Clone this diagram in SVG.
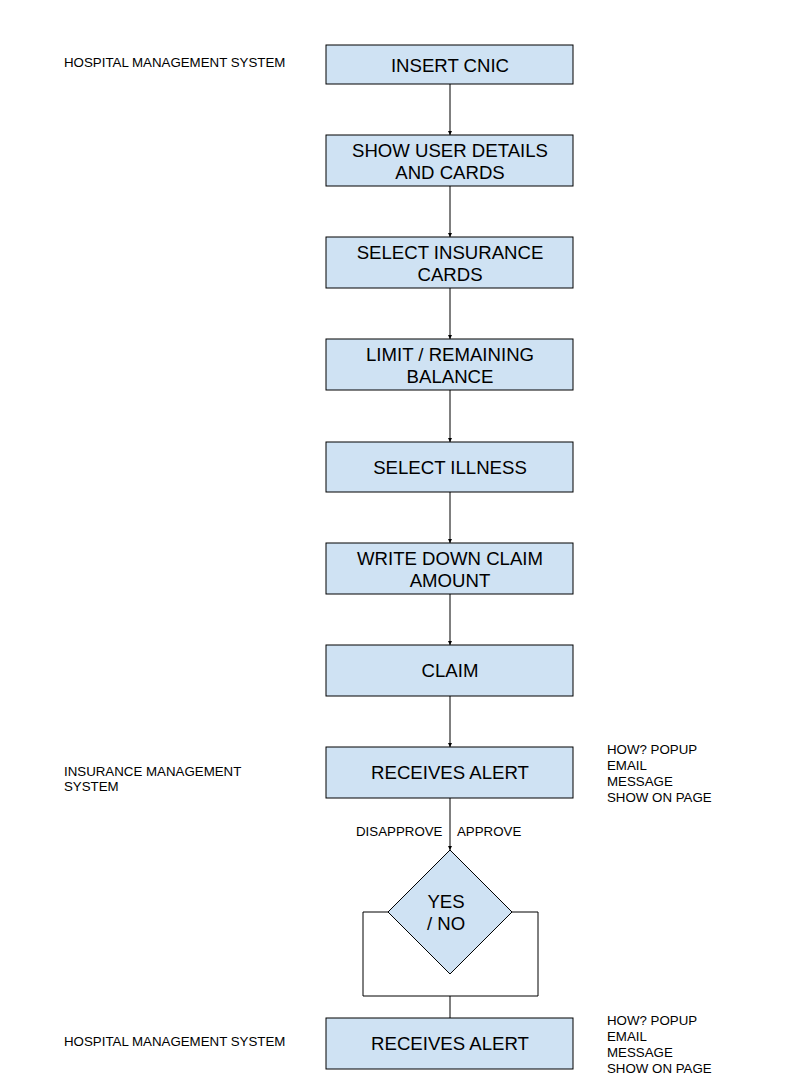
<svg xmlns="http://www.w3.org/2000/svg" width="799" height="1091" viewBox="0 0 799 1091">
<style>
.box{fill:#cfe2f3;stroke:#000;stroke-width:1}
.t{font-family:"Liberation Sans",Arial,sans-serif;font-size:18.6px;fill:#000;text-anchor:middle}
.s{font-family:"Liberation Sans",Arial,sans-serif;font-size:13.3px;fill:#000}
.c{fill:none;stroke:#000;stroke-width:1}
</style>
<defs>
<marker id="ah" viewBox="0 0 10 10" refX="10" refY="5" markerWidth="4" markerHeight="4" orient="auto" markerUnits="userSpaceOnUse"><path d="M0,0 L10,5 L0,10 z" fill="#000"/></marker>
</defs>
<rect width="799" height="1091" fill="#fff"/>
<g id="connectors">
<line class="c" x1="450" y1="84" x2="450" y2="135" marker-end="url(#ah)"/>
<line class="c" x1="450" y1="186" x2="450" y2="237" marker-end="url(#ah)"/>
<line class="c" x1="450" y1="288" x2="450" y2="339" marker-end="url(#ah)"/>
<line class="c" x1="450" y1="390" x2="450" y2="442" marker-end="url(#ah)"/>
<line class="c" x1="450" y1="492" x2="450" y2="543" marker-end="url(#ah)"/>
<line class="c" x1="450" y1="594" x2="450" y2="645" marker-end="url(#ah)"/>
<line class="c" x1="450" y1="696" x2="450" y2="747" marker-end="url(#ah)"/>
<line class="c" x1="450" y1="798" x2="450" y2="850" marker-end="url(#ah)"/>
<polyline class="c" points="388,912 363,912 363,996 538,996 538,912 512,912"/>
<line class="c" x1="450" y1="996" x2="450" y2="1018"/>
<text class="s" x="356" y="836">DISAPPROVE</text>
<text class="s" x="457" y="836">APPROVE</text>
</g>
<g id="n1"><rect class="box" x="326" y="45" width="247" height="39"/><text class="t" x="450" y="72">INSERT CNIC</text></g>
<g id="n2"><rect class="box" x="326" y="135" width="247" height="51"/><text class="t" x="450" y="157">SHOW USER DETAILS</text><text class="t" x="450" y="179">AND CARDS</text></g>
<g id="n3"><rect class="box" x="326" y="237" width="247" height="51"/><text class="t" x="450" y="259">SELECT INSURANCE</text><text class="t" x="450" y="281">CARDS</text></g>
<g id="n4"><rect class="box" x="326" y="339" width="247" height="51"/><text class="t" x="450" y="361">LIMIT / REMAINING</text><text class="t" x="450" y="383">BALANCE</text></g>
<g id="n5"><rect class="box" x="326" y="442" width="247" height="50"/><text class="t" x="450" y="474">SELECT ILLNESS</text></g>
<g id="n6"><rect class="box" x="326" y="543" width="247" height="51"/><text class="t" x="450" y="565">WRITE DOWN CLAIM</text><text class="t" x="450" y="587">AMOUNT</text></g>
<g id="n7"><rect class="box" x="326" y="645" width="247" height="51"/><text class="t" x="450" y="677">CLAIM</text></g>
<g id="n8"><rect class="box" x="326" y="747" width="247" height="51"/><text class="t" x="450" y="779">RECEIVES ALERT</text></g>
<g id="n9"><polygon class="box" points="450,850 512,912 450,974 388,912"/><text class="t" x="446" y="908">YES</text><text class="t" x="446" y="930">/ NO</text></g>
<g id="n10"><rect class="box" x="326" y="1018" width="247" height="51"/><text class="t" x="450" y="1050">RECEIVES ALERT</text></g>
<g id="labels">
<text class="s" x="64" y="67">HOSPITAL MANAGEMENT SYSTEM</text>
<text class="s" x="64" y="776">INSURANCE MANAGEMENT</text>
<text class="s" x="64" y="791">SYSTEM</text>
<text class="s" x="64" y="1046">HOSPITAL MANAGEMENT SYSTEM</text>
<text class="s" x="607" y="754">HOW? POPUP</text>
<text class="s" x="607" y="770">EMAIL</text>
<text class="s" x="607" y="786">MESSAGE</text>
<text class="s" x="607" y="802">SHOW ON PAGE</text>
<text class="s" x="607" y="1025">HOW? POPUP</text>
<text class="s" x="607" y="1041">EMAIL</text>
<text class="s" x="607" y="1057">MESSAGE</text>
<text class="s" x="607" y="1073">SHOW ON PAGE</text>
</g>
</svg>
